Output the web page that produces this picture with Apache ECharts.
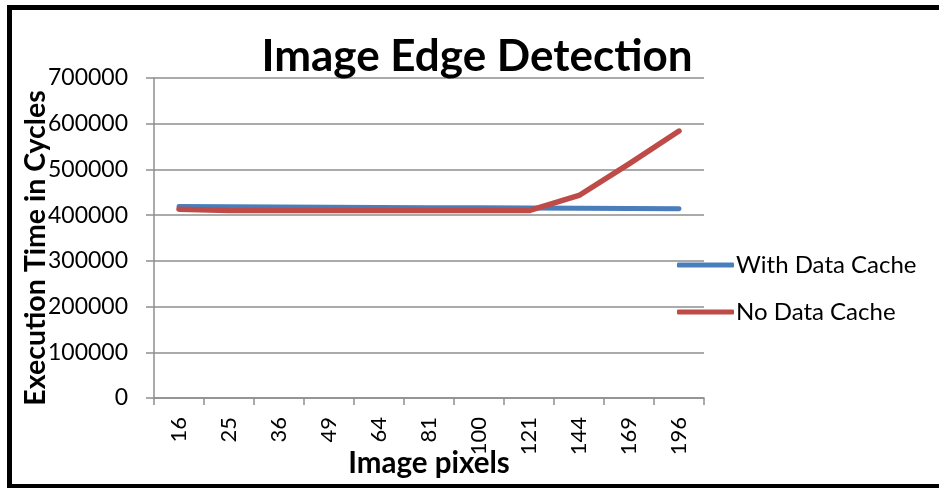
<!DOCTYPE html>
<html>
<head>
<meta charset="utf-8">
<script src="https://cdn.jsdelivr.net/npm/echarts@6/dist/echarts.min.js"></script>
<style>
  html, body { margin: 0; padding: 0; background: #fff; }
  #chart { width: 939px; height: 488px; }
</style>
</head>
<body>
<div id="chart"></div>
<script>
// Image sizes (pixels) on the category axis
const imagePixels = ['16', '25', '36', '49', '64', '81', '100', '121', '144', '169', '196'];
// Execution time in cycles for each configuration
const withDataCache = [419000, 418500, 418000, 417000, 416500, 416000, 416000, 415500, 415000, 414500, 414000];
const noDataCache = [413000, 410000, 410000, 410000, 410000, 410000, 410000, 410000, 443000, 512000, 584000];
// Value axis range
const yMin = 0, yMax = 700000, yStep = 100000;

const FONT = 'Lato';
const gridColor = '#8e8e8e';

const chart = echarts.init(document.getElementById('chart'), null, { renderer: 'canvas' });
chart.setOption({
  backgroundColor: '#fff',
  animation: false,
  title: {
    text: 'Image Edge Detection',
    left: 472,
    textAlign: 'center',
    top: 30,
    textStyle: { fontFamily: FONT, fontWeight: 'bold', fontSize: 44, color: '#000' }
  },
  legend: {
    orient: 'vertical',
    left: 677,
    top: 253,
    padding: 0,
    itemWidth: 57,
    itemHeight: 5,
    itemGap: 23,
    icon: 'roundRect',
    textStyle: { fontFamily: FONT, fontSize: 24, color: '#000', padding: [0, 0, 0, -3] },
    data: ['With Data Cache', 'No Data Cache']
  },
  grid: { left: 154, right: 235, top: 78, bottom: 90, containLabel: false, outerBoundsMode: 'none' },
  xAxis: {
    type: 'category',
    data: imagePixels,
    boundaryGap: true,
    name: 'Image pixels',
    nameLocation: 'middle',
    nameGap: 50,
    nameMoveOverlap: false,
    nameTextStyle: { fontFamily: FONT, fontWeight: 'bold', fontSize: 29.5, color: '#000' },
    axisLine: { lineStyle: { color: gridColor, width: 1.5 } },
    axisTick: { show: true, length: 7, interval: 0, lineStyle: { color: gridColor, width: 1.5 } },
    axisLabel: {
      rotate: 90,
      interval: 0,
      margin: 19,
      fontFamily: FONT,
      fontSize: 22,
      color: '#000'
    },
    splitLine: { show: false }
  },
  yAxis: {
    type: 'value',
    min: yMin,
    max: yMax,
    interval: yStep,
    name: 'Execution Time in Cycles',
    nameLocation: 'middle',
    nameRotate: 90,
    nameGap: 104,
    nameMoveOverlap: false,
    nameTextStyle: {
      fontFamily: FONT, fontWeight: 'bold', fontSize: 28.5, color: '#000',
      padding: [0, 20, 0, 0]
    },
    axisLine: { show: true, lineStyle: { color: gridColor, width: 1.5 } },
    axisTick: { show: true, length: 8, lineStyle: { color: gridColor, width: 1.5 } },
    axisLabel: {
      margin: 26,
      fontFamily: FONT,
      fontSize: 23,
      color: '#000',
      formatter: (v) => String(v)
    },
    splitLine: { show: true, lineStyle: { color: gridColor, width: 1.5 } }
  },
  series: [
    {
      name: 'With Data Cache',
      type: 'line',
      data: withDataCache,
      symbol: 'none',
      lineStyle: { color: '#4a7ebb', width: 5, cap: 'round', join: 'round' },
      itemStyle: { color: '#4a7ebb' }
    },
    {
      name: 'No Data Cache',
      type: 'line',
      data: noDataCache,
      symbol: 'none',
      lineStyle: { color: '#be4b48', width: 5.5, cap: 'round', join: 'round' },
      itemStyle: { color: '#be4b48' }
    }
  ],
  graphic: [
    {
      type: 'rect',
      silent: true,
      shape: { x: 9.5, y: 7.5, width: 960, height: 479 },
      style: { fill: 'none', stroke: '#000', lineWidth: 5 }
    }
  ]
});
</script>
</body>
</html>
